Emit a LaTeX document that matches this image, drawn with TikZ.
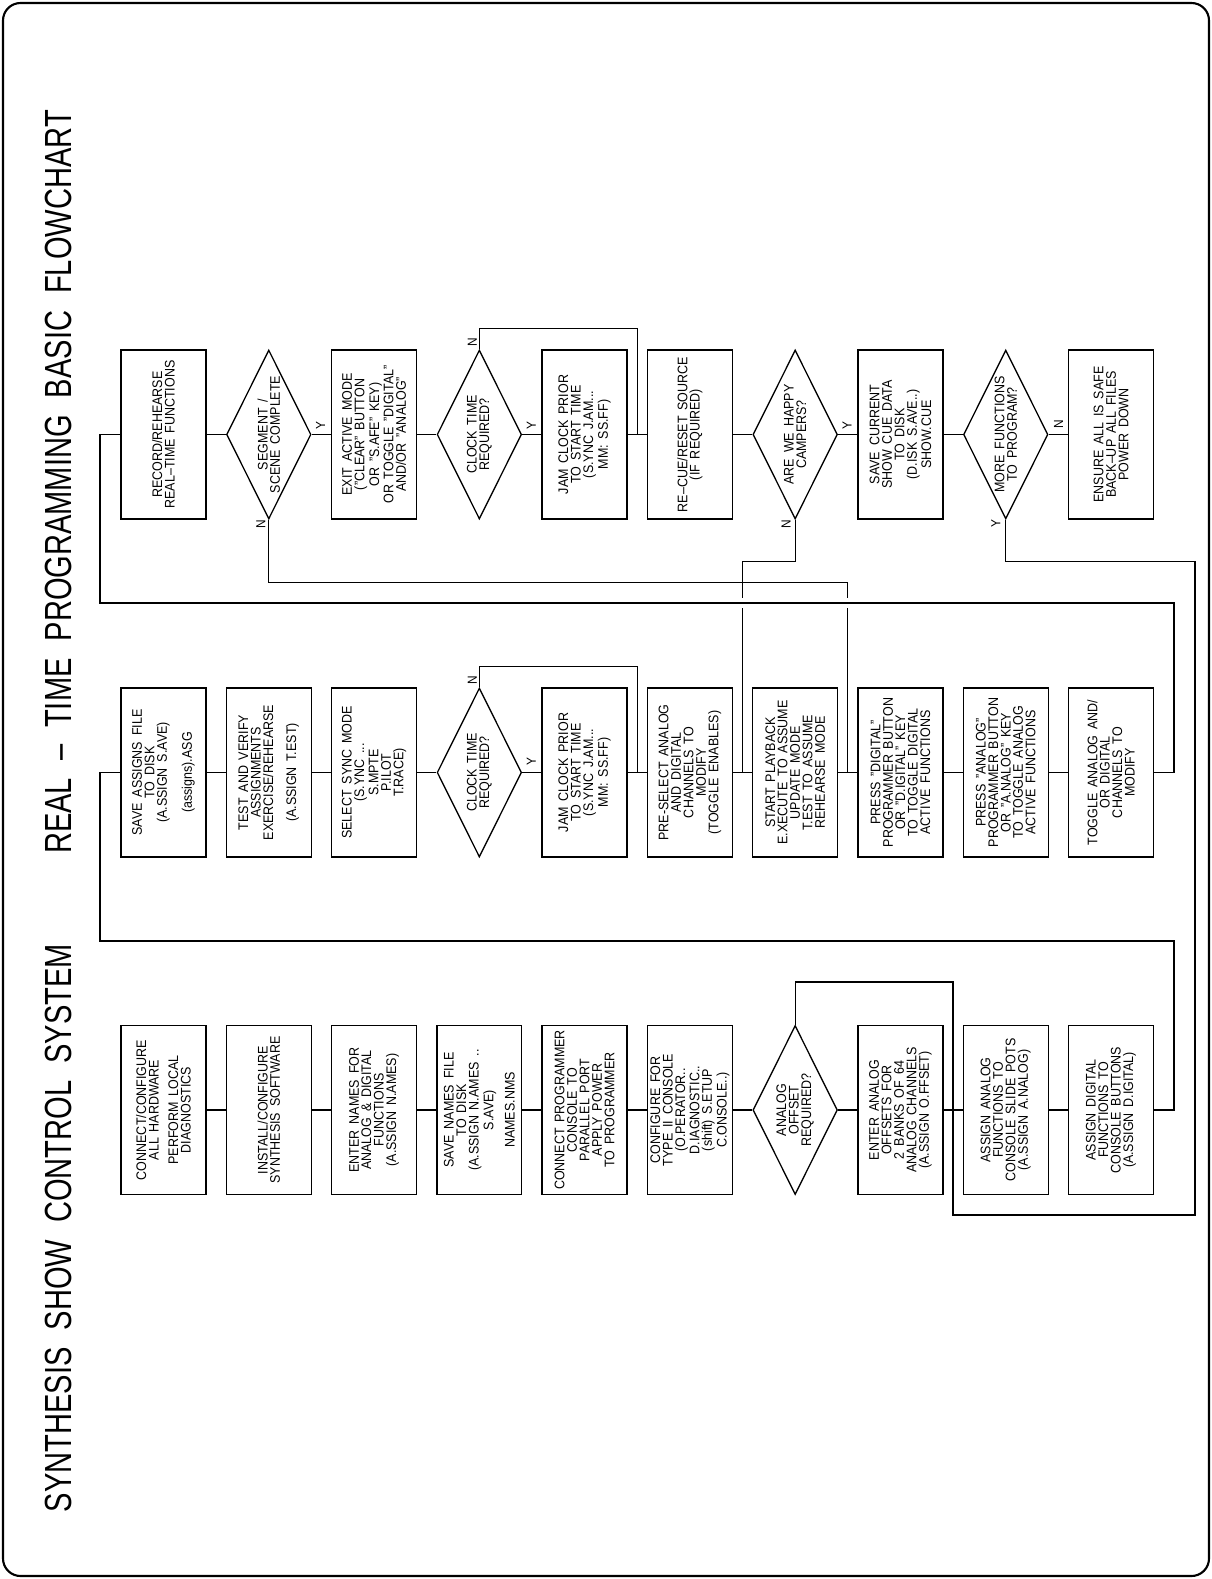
\documentclass[tikz,border=0pt]{standalone}
\usepackage{fontspec}
\setmainfont[FakeStretch=0.9]{Liberation Sans}
\newfontfamily\titlefont[FakeStretch=0.77]{Liberation Sans}
\usetikzlibrary{shapes.geometric,positioning,calc}
\newcommand{\boxfont}{\fontsize{7.9}{7.1}\selectfont\spaceskip 0.42em\relax}
\newcommand{\ttlfont}{\titlefont\fontsize{21.5}{21.5}\selectfont\spaceskip 0.45em\relax}

\begin{document}
\begin{tikzpicture}[x=0.02cm,y=-0.02cm,line width=0.75pt,node distance=2.106cm,on grid,
    box/.style={rectangle,draw,rotate=90,minimum width=3.38cm,minimum height=1.7cm,
                inner sep=1pt,align=center,font=\boxfont},
    dec/.style={diamond,draw,rotate=90,aspect=2,minimum width=3.38cm,minimum height=1.69cm,
                inner sep=0pt,align=center,font=\boxfont},
    yn/.style={rotate=90,inner sep=0pt,font=\fontsize{7.5}{7.5}\selectfont},
    ttl/.style={rotate=90,inner sep=0pt,font=\ttlfont}
                   ]
    \useasboundingbox (0,0) rectangle (1212,1579);
    \draw[line width=1.2pt,rounded corners=0.35cm] (3,3) rectangle (1209,1576);

    \node[ttl] (ttl1) at (58,1228) {SYNTHESIS SHOW CONTROL SYSTEM};
    \node[ttl] (ttl2) at (58,482) {REAL \textendash{} TIME PROGRAMMING BASIC FLOWCHART};

    % first column
    \node[box] (c1) at (163.5,1110) {CONNECT/CONFIGURE\\ALL HARDWARE\\[4pt]PERFORM LOCAL\\DIAGNOSTICS};
    \node[box,right=of c1] (c2) {INSTALL/CONFIGURE\\SYNTHESIS SOFTWARE};
    \node[box,right=of c2] (c3) {ENTER NAMES FOR\\ANALOG \& DIGITAL\\FUNCTIONS\\(A.SSIGN N.AMES)};
    \node[box,right=of c3] (c4) {SAVE NAMES FILE\\TO DISK\\(A.SSIGN N.AMES ..\\S.AVE)\\[4pt]NAMES.NMS};
    \node[box,right=of c4] (c5) {CONNECT PROGRAMMER\\CONSOLE TO\\PARALLEL PORT\\APPLY POWER\\TO PROGRAMMER};
    \node[box,right=of c5] (c6) {CONFIGURE FOR\\TYPE II CONSOLE\\(O.PERATOR..\\D.IAGNOSTIC..\\(shift) S.ETUP\\C.ONSOLE..)};
    \node[dec,right=of c6] (c7) {ANALOG\\OFFSET\\REQUIRED?};
    \node[box,right=of c7] (c8) {ENTER ANALOG\\OFFSETS FOR\\2 BANKS OF 64\\ANALOG CHANNELS\\(A.SSIGN O.FFSET)};
    \node[box,right=of c8] (c9) {ASSIGN ANALOG\\FUNCTIONS TO\\CONSOLE SLIDE POTS\\(A.SSIGN A.NALOG)};
    \node[box,right=of c9] (c10) {ASSIGN DIGITAL\\FUNCTIONS TO\\CONSOLE BUTTONS\\(A.SSIGN D.IGITAL)};

    % second column
    \node[box] (m1) at (163.5,772.5) {SAVE ASSIGNS FILE\\TO DISK\\(A.SSIGN S.AVE)\\[6pt](assigns).ASG};
    \node[box,right=of m1] (m2) {TEST AND VERIFY\\ASSIGNMENTS\\EXERCISE/REHEARSE\\[6pt](A.SSIGN T.EST)};
    \node[box,right=of m2] (m3) {SELECT SYNC MODE\\(S.YNC ...\\S.MPTE\\P.ILOT\\T.RACE)};
    \node[dec,right=of m3] (m4) {CLOCK TIME\\REQUIRED?};
    \node[box,right=of m4] (m5) {JAM CLOCK PRIOR\\TO START TIME\\(S.YNC J.AM...\\MM: SS.FF)};
    \node[box,right=of m5] (m6) {PRE-SELECT ANALOG\\AND DIGITAL\\CHANNELS TO\\MODIFY\\(TOGGLE ENABLES)};
    \node[box,right=of m6] (m7) {START PLAYBACK\\E.XECUTE TO ASSUME\\UPDATE MODE\\T.EST TO ASSUME\\REHEARSE MODE};
    \node[box,right=of m7] (m8) {PRESS "DIGITAL"\\PROGRAMMER BUTTON\\OR "D.IGITAL" KEY\\TO TOGGLE DIGITAL\\ACTIVE FUNCTIONS};
    \node[box,right=of m8] (m9) {PRESS "ANALOG"\\PROGRAMMER BUTTON\\OR "A.NALOG" KEY\\TO TOGGLE ANALOG\\ACTIVE FUNCTIONS};
    \node[box,right=of m9] (m10) {TOGGLE ANALOG AND/\\OR DIGITAL\\CHANNELS TO\\MODIFY};

    % third column
    \node[box] (t1) at (163.5,434.5) {RECORD/REHEARSE\\REAL--TIME FUNCTIONS};
    \node[dec,right=of t1] (t2) {SEGMENT /\\SCENE COMPLETE};
    \node[box,right=of t2] (t3) {EXIT ACTIVE MODE\\("CLEAR" BUTTON\\OR "S.AFE" KEY)\\OR TOGGLE "DIGITAL"\\AND/OR "ANALOG"};
    \node[dec,right=of t3] (t4) {CLOCK TIME\\REQUIRED?};
    \node[box,right=of t4] (t5) {JAM CLOCK PRIOR\\TO START TIME\\(S.YNC J.AM...\\MM: SS.FF)};
    \node[box,right=of t5] (t6) {RE--CUE/RESET SOURCE\\(IF REQUIRED)};
    \node[dec,right=of t6] (t7) {ARE WE HAPPY\\CAMPERS?};
    \node[box,right=of t7] (t8) {SAVE CURRENT\\SHOW CUE DATA\\TO DISK\\(D.ISK S.AVE..)\\SHOW.CUE};
    \node[dec,right=of t8] (t9) {MORE FUNCTIONS\\TO PROGRAM?};
    \node[box,right=of t9] (t10) {ENSURE ALL IS SAFE\\BACK--UP ALL FILES\\POWER DOWN};

    \coordinate (jm1) at ($(m5)!0.5!(m6)$);
    \coordinate (jm2) at ($(m6)!0.5!(m7)$);
    \coordinate (jm3) at ($(m7)!0.5!(m8)$);
    \coordinate (jt1) at ($(t5)!0.5!(t6)$);
    \coordinate (jc) at ($(c8)!0.5!(c9)$);
    \coordinate (r1) at (1174,941);
    \coordinate (l1) at (100,941);
    \coordinate (r2) at (1174,603);
    \coordinate (l2) at (100,603);
    \coordinate (r3) at (1195,1215);

    \path (c1) edge (c2) (c2) edge (c3) (c3) edge (c4) (c4) edge (c5) (c5) edge (c6)
          (c6) edge (c7) (c7) edge (c8) (c8) edge (c9) (c9) edge (c10);
    \path (m1) edge (m2) (m2) edge (m3) (m3) edge (m4) (m4) edge (m5) (m5) edge (m6)
          (m6) edge (m7) (m7) edge (m8) (m8) edge (m9) (m9) edge (m10);
    \path (t1) edge (t2) (t2) edge (t3) (t3) edge (t4) (t4) edge (t5) (t5) edge (t6)
          (t6) edge (t7) (t7) edge (t8) (t8) edge (t9) (t9) edge (t10);

    \draw (c10.south) -| (r1) -- (l1) |- (m1.north);
    \draw (c7.east) -- ++(0,-43) -| (jc);
    \draw (m4.east) -- ++(0,-21) -| (jm1);
    \draw (t4.east) -- ++(0,-21) -| (jt1);
    \draw (t2.west) -- ++(0,63) -| (jm3);
    \draw (t7.west) -- ++(0,42) -| (jm2);
    \draw (t9.west) -- ++(0,42) -| (r3) -| (jc);
    % gaps where the return line crosses
    \draw[white,line width=6pt] ($(l2)+(600,0)$) -- ($(l2)+(800,0)$);
    \draw (m10.south) -| (r2) -- (l2) |- (t1.north);

    \node[yn] (yt2) at ($(t2.south)+(9,-9)$) {Y};
    \node[yn] (nt2) at ($(t2.west)+(-8,5)$) {N};
    \node[yn] (nt4) at ($(t4.east)+(-7,-7)$) {N};
    \node[yn] (yt4) at ($(t4.south)+(9,-9)$) {Y};
    \node[yn] (nt7) at ($(t7.west)+(-9,5)$) {N};
    \node[yn] (yt7) at ($(t7.south)+(9,-9)$) {Y};
    \node[yn] (yt9) at ($(t9.west)+(-10,4)$) {Y};
    \node[yn] (nt9) at ($(t9.south)+(10,-10)$) {N};
    \node[yn] (nm4) at ($(m4.east)+(-7,-7)$) {N};
    \node[yn] (ym4) at ($(m4.south)+(9,-11)$) {Y};

\end{tikzpicture}
\end{document}
